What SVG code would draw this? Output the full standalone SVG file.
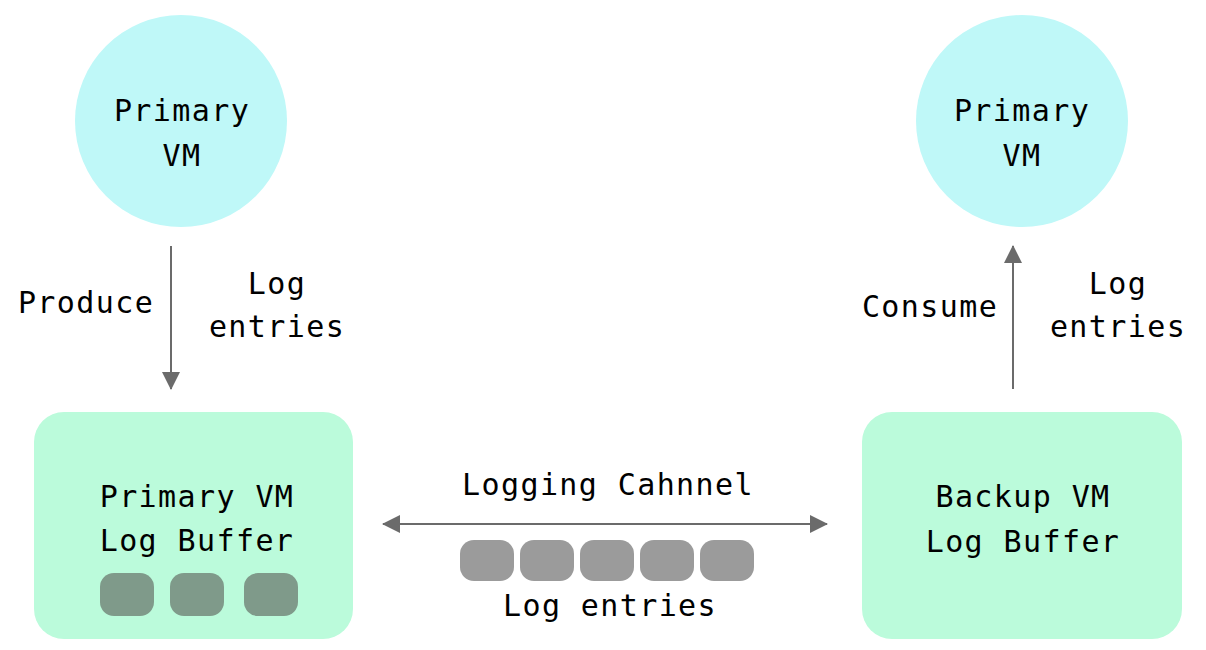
<svg xmlns="http://www.w3.org/2000/svg" width="1206" height="650" viewBox="0 0 1206 650">
<defs>
<style>
text{font-family:"DejaVu Sans Mono","Liberation Mono",monospace;font-size:30px;letter-spacing:1.4px;fill:#000;text-anchor:middle}
.vm{fill:#bff8f8}
.buf{fill:#bbfbdb}
.ent-in{fill:#7f9a8a}
.ent{fill:#9b9b9b}
.conn{stroke:#6b6b6b;stroke-width:2;fill:none}
</style>
<marker id="ah" viewBox="0 0 18 18" refX="17" refY="9" markerWidth="18" markerHeight="18" markerUnits="userSpaceOnUse" orient="auto-start-reverse">
<path d="M0,0 L18,9 L0,18 Z" fill="#6b6b6b"/>
</marker>
</defs>
<rect width="1206" height="650" fill="#fff"/>
<g id="primary-vm">
<circle class="vm" cx="181" cy="121" r="106"/>
<text x="182" y="121">Primary</text>
<text x="182" y="166">VM</text>
</g>
<g id="primary-vm-2">
<circle class="vm" cx="1022" cy="121" r="106"/>
<text x="1022" y="121">Primary</text>
<text x="1022" y="166">VM</text>
</g>
<g id="primary-buffer">
<rect class="buf" x="34" y="412" width="319" height="227" rx="30"/>
<text x="197" y="507">Primary VM</text>
<text x="197" y="551">Log Buffer</text>
<rect class="ent-in" x="100" y="573" width="54" height="43" rx="14"/>
<rect class="ent-in" x="170" y="573" width="54" height="43" rx="14"/>
<rect class="ent-in" x="244" y="573" width="54" height="43" rx="14"/>
</g>
<g id="backup-buffer">
<rect class="buf" x="862" y="412" width="320" height="227" rx="30"/>
<text x="1023" y="507">Backup VM</text>
<text x="1023" y="552">Log Buffer</text>
</g>
<g id="channel-entries">
<rect class="ent" x="460" y="540" width="54" height="41" rx="14"/>
<rect class="ent" x="520" y="540" width="54" height="41" rx="14"/>
<rect class="ent" x="580" y="540" width="54" height="41" rx="14"/>
<rect class="ent" x="640" y="540" width="54" height="41" rx="14"/>
<rect class="ent" x="700" y="540" width="54" height="41" rx="14"/>
</g>
<g id="connectors">
<line class="conn" x1="171" y1="246" x2="171" y2="389" marker-end="url(#ah)"/>
<line class="conn" x1="1013" y1="389" x2="1013" y2="246" marker-end="url(#ah)"/>
<line class="conn" x1="383" y1="524" x2="827" y2="524" marker-start="url(#ah)" marker-end="url(#ah)"/>
</g>
<g id="labels">
<text x="86" y="313">Produce</text>
<text x="277" y="294">Log</text>
<text x="277" y="337">entries</text>
<text x="930" y="317">Consume</text>
<text x="1118" y="294">Log</text>
<text x="1118" y="337">entries</text>
<text x="608" y="495">Logging Cahnnel</text>
<text x="610" y="616">Log entries</text>
</g>
</svg>
